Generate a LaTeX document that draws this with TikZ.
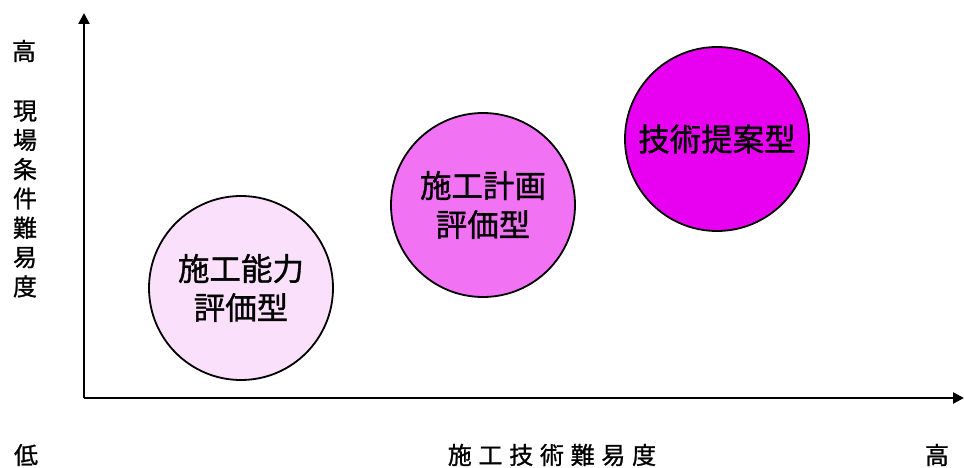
\documentclass[tikz,border=0pt]{standalone}
\usepackage{fontspec}
\setmainfont[FakeBold=1]{Noto Sans CJK JP}
\newfontfamily\axisfont[LetterSpace=28,FakeBold=1]{Noto Sans CJK JP}
\usetikzlibrary{arrows.meta}
\definecolor{cA}{HTML}{FAE0FA}
\definecolor{cB}{HTML}{F272F4}
\definecolor{cC}{HTML}{E800F0}
\begin{document}
\begin{tikzpicture}[x=1pt,y=1pt,
  ball/.style={circle,draw=black,line width=1.8pt,minimum size=184pt,inner sep=0pt,align=center,
    font=\fontsize{31.5}{39}\selectfont},
  axis/.style={line width=2.4pt,-{Triangle[length=11pt,width=11pt]}},
  lbl/.style={inner sep=0pt,font=\fontsize{24}{29.3}\selectfont}]
\useasboundingbox (0,0) rectangle (964,-468);
\coordinate (O) at (84,-398);
\coordinate (ytop) at (84,-13);
\coordinate (xend) at (964,-398);
\draw[axis] (O) -- (ytop);
\draw[axis] (O) -- (xend);
\node[ball,fill=cA] (c1) at (241,-288) {施工能力\\評価型};
\node[ball,fill=cB] (c2) at (483,-205) {施工計画\\評価型};
\node[ball,fill=cC] (c3) at (717,-139) {技術提案型};
\node[lbl] (hiY) at (24,-51) {高};
\node[lbl,align=center] (ylab) at (25,-199) {現\\場\\条\\件\\難\\易\\度};
\node[lbl] (lo) at (26,-455) {低};
\node[lbl,font=\fontsize{24}{29}\axisfont] (xlab) at (552,-455) {施工技術難易度};
\node[lbl] (hiX) at (937,-455) {高};
\end{tikzpicture}
\end{document}
